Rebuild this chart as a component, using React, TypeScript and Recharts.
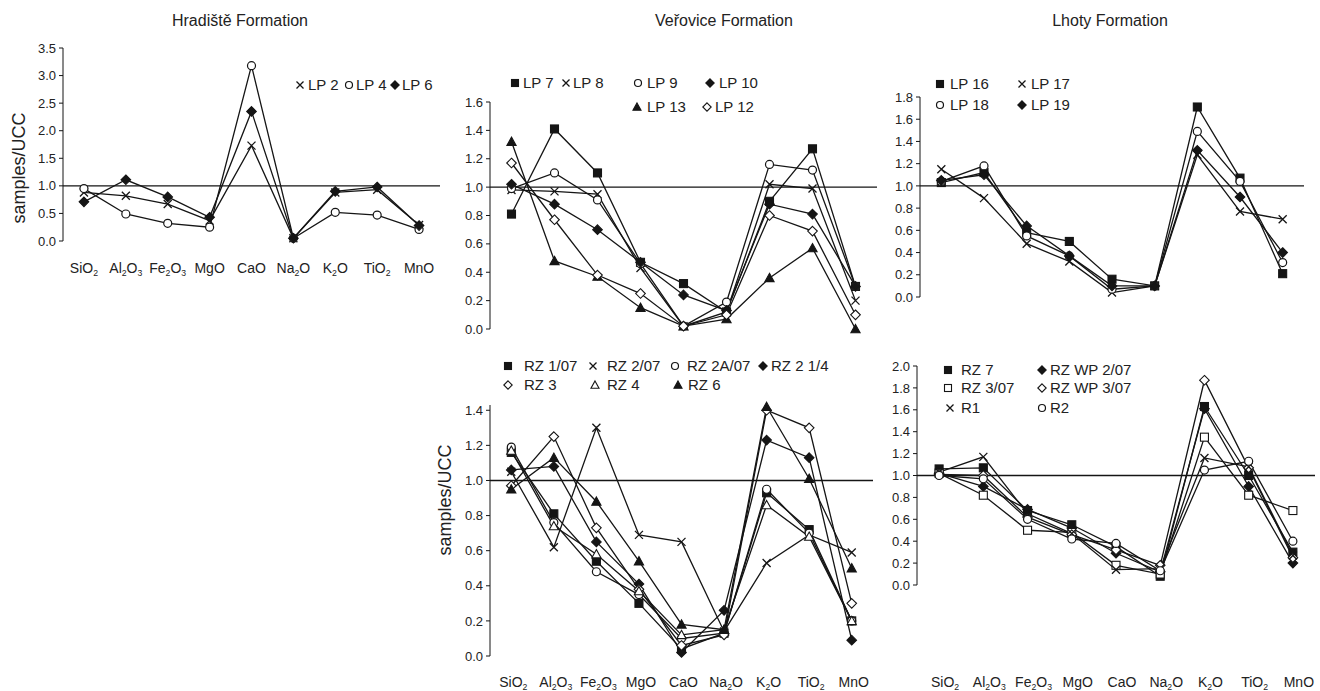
import React from "react";
import { LineChart, Line, XAxis, YAxis, ReferenceLine } from "recharts";

const FONT = '"Liberation Sans", Arial, Helvetica, sans-serif';
const INK = "#151515";
const TEXT = "#222";

// oxides on the x axis
const elements = ["SiO2", "Al2O3", "Fe2O3", "MgO", "CaO", "Na2O", "K2O", "TiO2", "MnO"];

// y tick labels
const ticksHradiste = [0, 0.5, 1, 1.5, 2, 2.5, 3, 3.5];
const ticksVerovice = [0, 0.2, 0.4, 0.6, 0.8, 1, 1.2, 1.4, 1.6];
const ticksLhoty = [0, 0.2, 0.4, 0.6, 0.8, 1, 1.2, 1.4, 1.6, 1.8];
const ticksRZ = [0, 0.2, 0.4, 0.6, 0.8, 1, 1.2, 1.4];
const ticksRZ2 = [0, 0.2, 0.4, 0.6, 0.8, 1, 1.2, 1.4, 1.6, 1.8, 2];

// Hradiště Formation
const lp2 = [0.88, 0.82, 0.67, 0.37, 1.73, 0.05, 0.88, 0.93, 0.29];
const lp4 = [0.95, 0.49, 0.32, 0.25, 3.18, 0.05, 0.52, 0.47, 0.21];
const lp6 = [0.71, 1.11, 0.8, 0.43, 2.35, 0.05, 0.9, 0.98, 0.28];

// Veřovice Formation
const lp7 = [0.81, 1.41, 1.1, 0.47, 0.32, 0.12, 0.9, 1.27, 0.3];
const lp8 = [0.98, 0.97, 0.95, 0.43, 0.02, 0.12, 1.02, 0.99, 0.2];
const lp9 = [0.99, 1.1, 0.91, 0.46, 0.02, 0.19, 1.16, 1.12, 0.3];
const lp10 = [1.02, 0.88, 0.7, 0.47, 0.24, 0.13, 0.88, 0.81, 0.3];
const lp13 = [1.32, 0.48, 0.37, 0.15, 0.02, 0.07, 0.36, 0.57, 0.0];
const lp12 = [1.17, 0.77, 0.38, 0.25, 0.02, 0.1, 0.8, 0.69, 0.1];

// Lhoty Formation
const lp16 = [1.03, 1.12, 0.58, 0.5, 0.16, 0.1, 1.71, 1.07, 0.21];
const lp17 = [1.15, 0.89, 0.48, 0.32, 0.04, 0.1, 1.28, 0.77, 0.7];
const lp18 = [1.04, 1.18, 0.55, 0.37, 0.07, 0.1, 1.49, 1.04, 0.31];
const lp19 = [1.05, 1.1, 0.64, 0.37, 0.1, 0.1, 1.32, 0.9, 0.4];

// Veřovice Formation (RZ)
const rz107 = [1.16, 0.81, 0.54, 0.3, 0.04, 0.13, 0.93, 0.72, 0.2];
const rz207 = [1.05, 0.62, 1.3, 0.69, 0.65, 0.14, 0.53, 0.69, 0.59];
const rz2a07 = [1.19, 0.76, 0.48, 0.35, 0.1, 0.13, 0.95, 0.7, 0.2];
const rz214 = [1.06, 1.08, 0.65, 0.41, 0.02, 0.26, 1.23, 1.13, 0.09];
const rz3 = [0.97, 1.25, 0.73, 0.38, 0.06, 0.12, 1.4, 1.3, 0.3];
const rz4 = [1.17, 0.74, 0.58, 0.37, 0.12, 0.15, 0.86, 0.68, 0.2];
const rz6 = [0.95, 1.13, 0.88, 0.54, 0.18, 0.15, 1.42, 1.01, 0.5];

// Lhoty Formation (RZ / R)
const rz7 = [1.06, 1.07, 0.68, 0.55, 0.35, 0.08, 1.63, 1.0, 0.3];
const rzwp207 = [1.02, 0.9, 0.69, 0.52, 0.29, 0.12, 1.61, 0.9, 0.2];
const rz307 = [1.02, 0.82, 0.5, 0.48, 0.18, 0.1, 1.35, 0.82, 0.68];
const rzwp307 = [1.01, 1.0, 0.62, 0.46, 0.32, 0.18, 1.87, 1.07, 0.25];
const r1 = [1.03, 1.17, 0.65, 0.47, 0.14, 0.15, 1.16, 1.08, 0.27];
const r2 = [1.0, 0.97, 0.6, 0.42, 0.38, 0.13, 1.05, 1.13, 0.4];

const seriesHradiste = [
  { name: "LP 2", shape: "cross", values: lp2 },
  { name: "LP 4", shape: "circle", values: lp4 },
  { name: "LP 6", shape: "diamond", values: lp6 },
];
const seriesVerovice = [
  { name: "LP 7", shape: "square", values: lp7 },
  { name: "LP 8", shape: "cross", values: lp8 },
  { name: "LP 9", shape: "circle", values: lp9 },
  { name: "LP 10", shape: "diamond", values: lp10 },
  { name: "LP 13", shape: "triangle", values: lp13 },
  { name: "LP 12", shape: "diamondOpen", values: lp12 },
];
const seriesLhoty = [
  { name: "LP 16", shape: "square", values: lp16 },
  { name: "LP 17", shape: "cross", values: lp17 },
  { name: "LP 18", shape: "circle", values: lp18 },
  { name: "LP 19", shape: "diamond", values: lp19 },
];
const seriesRZ = [
  { name: "RZ 1/07", shape: "square", values: rz107 },
  { name: "RZ 2/07", shape: "cross", values: rz207 },
  { name: "RZ 2A/07", shape: "circle", values: rz2a07 },
  { name: "RZ 2 1/4", shape: "diamond", values: rz214 },
  { name: "RZ 3", shape: "diamondOpen", values: rz3 },
  { name: "RZ 4", shape: "triangleOpen", values: rz4 },
  { name: "RZ 6", shape: "triangle", values: rz6 },
];
const seriesRZ2 = [
  { name: "RZ 7", shape: "square", values: rz7 },
  { name: "RZ WP 2/07", shape: "diamond", values: rzwp207 },
  { name: "RZ 3/07", shape: "squareOpen", values: rz307 },
  { name: "RZ WP 3/07", shape: "diamondOpen", values: rzwp307 },
  { name: "R1", shape: "cross", values: r1 },
  { name: "R2", shape: "circle", values: r2 },
];

// legend layout: icon x, y, text x (same order as series)
const legendHradiste = [[300, 85, 308], [349, 85, 356], [395, 85, 402]];
const legendVerovice = [[515, 83, 523], [566, 83, 573], [638, 83, 647], [710, 83, 719], [637, 107, 647], [707, 107, 715]];
const legendLhoty = [[940, 84, 950], [1022, 84, 1031], [940, 105, 950], [1022, 105, 1031]];
const legendRZ = [[508, 366, 524], [593, 366, 607], [675, 366, 687], [763, 366, 771], [508, 385, 524], [595, 385, 607], [678, 385, 688]];
const legendRZ2 = [[948, 370, 961], [1042, 370, 1050], [948, 388, 961], [1042, 388, 1050], [950, 408, 961], [1042, 408, 1050]];

function Marker({ shape, cx, cy, s }: any) {
  if (cx == null || cy == null) return null;
  const open = shape.endsWith("Open");
  const fill = open ? "#fff" : INK;
  if (shape === "square" || shape === "squareOpen") {
    return <rect x={cx - s} y={cy - s} width={2 * s} height={2 * s} fill={fill} stroke={INK} strokeWidth={1.1} />;
  }
  if (shape === "circle") {
    return <circle cx={cx} cy={cy} r={s} fill="#fff" stroke={INK} strokeWidth={1.2} />;
  }
  if (shape === "diamond" || shape === "diamondOpen") {
    const d = s * 1.2;
    return (
      <polygon
        points={`${cx},${cy - d} ${cx + d},${cy} ${cx},${cy + d} ${cx - d},${cy}`}
        fill={fill}
        stroke={INK}
        strokeWidth={1.1}
      />
    );
  }
  if (shape === "triangle" || shape === "triangleOpen") {
    const d = s * 1.15;
    return (
      <polygon
        points={`${cx},${cy - d} ${cx + d},${cy + d * 0.8} ${cx - d},${cy + d * 0.8}`}
        fill={fill}
        stroke={INK}
        strokeWidth={1.1}
      />
    );
  }
  return (
    <path
      d={`M${cx - s},${cy - s}L${cx + s},${cy + s}M${cx - s},${cy + s}L${cx + s},${cy - s}`}
      stroke={INK}
      strokeWidth={1.3}
      fill="none"
    />
  );
}

// "Al2O3" -> Al, sub 2, O, sub 3
function Formula({ x, y, label, size = 14 }: any) {
  const parts = label.match(/[0-9]+|[^0-9]+/g) || [];
  let sub = false;
  const spans = parts.map((p: string, i: number) => {
    const isNum = /^[0-9]+$/.test(p);
    let dy = 0;
    if (isNum && !sub) dy = 3;
    if (!isNum && sub) dy = -3;
    sub = isNum;
    return (
      <tspan key={i} dy={dy} fontSize={isNum ? size * 0.62 : size}>
        {p}
      </tspan>
    );
  });
  return (
    <text x={x} y={y} textAnchor="middle" fill={TEXT} fontFamily={FONT} fontSize={size}>
      {spans}
    </text>
  );
}

function Panel({ x0, x1, yTop, yBot, max, ticks, series, labelY, labelDx = 0 }: any) {
  const YW = 40;
  const MT = 10;
  const MR = 4;
  const MB = 12;
  const showX = labelY != null;
  const xh = showX ? labelY - yBot + 14 : 0;
  const width = x1 - x0 + YW + MR;
  const height = yBot - yTop + MT + xh + MB;
  const rows = elements.map((el, i) => {
    const r: any = { i, el };
    series.forEach((s: any) => (r[s.name] = s.values[i]));
    return r;
  });
  return (
    <div style={{ position: "absolute", left: x0 - YW, top: yTop - MT }}>
      <LineChart width={width} height={height} data={rows} margin={{ top: MT, right: MR, bottom: MB, left: 0 }}>
        <XAxis
          type="number"
          dataKey="i"
          domain={[-0.5, 8.5]}
          ticks={elements.map((_, i) => i)}
          interval={0}
          hide={!showX}
          height={xh}
          axisLine={false}
          tickLine={false}
          tickSize={0}
          tickMargin={0}
          tick={(p: any) => (
            <Formula key={p.index} x={p.x + labelDx} y={p.y + (labelY - yBot) + 5} label={elements[p.payload.value]} />
          )}
        />
        <YAxis
          type="number"
          domain={[0, max]}
          ticks={ticks}
          interval={0}
          width={YW}
          axisLine={{ stroke: INK }}
          tickLine={{ stroke: INK }}
          tickSize={4}
          tickMargin={3}
          tickFormatter={(v: number) => v.toFixed(1)}
          tick={{ fontSize: 13, fill: TEXT, fontFamily: FONT }}
        />
        <ReferenceLine y={1} stroke={INK} strokeWidth={1.3} />
        {series.map((s: any) => (
          <Line
            key={s.name}
            dataKey={s.name}
            type="linear"
            stroke={INK}
            strokeWidth={1.3}
            isAnimationActive={false}
            activeDot={false}
            dot={(p: any) => <Marker key={p.index} shape={s.shape} cx={p.cx} cy={p.cy} s={4} />}
          />
        ))}
      </LineChart>
    </div>
  );
}

function LegendItems({ series, layout }: any) {
  return (
    <g>
      {series.map((s: any, i: number) => {
        const [ix, iy, tx] = layout[i];
        return (
          <g key={s.name}>
            <Marker shape={s.shape} cx={ix} cy={iy} s={3.5} />
            <text x={tx} y={iy + 5} fontSize={15} fill={TEXT} fontFamily={FONT}>
              {s.name}
            </text>
          </g>
        );
      })}
    </g>
  );
}

export default function App() {
  return (
    <div style={{ position: "absolute", left: 0, top: 0, width: 1320, height: 691, background: "#fff" }}>
      <Panel x0={63} x1={440} yTop={48} yBot={241} max={3.5} ticks={ticksHradiste} series={seriesHradiste} labelY={268} />
      <Panel x0={490} x1={877} yTop={102} yBot={329} max={1.6} ticks={ticksVerovice} series={seriesVerovice} />
      <Panel x0={920} x1={1304} yTop={97} yBot={297} max={1.8} ticks={ticksLhoty} series={seriesLhoty} />
      <Panel x0={490} x1={873} yTop={405} yBot={656} max={1.43} ticks={ticksRZ} series={seriesRZ} labelY={682} labelDx={2} />
      <Panel x0={917} x1={1315} yTop={366} yBot={585} max={2} ticks={ticksRZ2} series={seriesRZ2} labelY={682} labelDx={6} />
      <svg width={1320} height={691} style={{ position: "absolute", left: 0, top: 0, pointerEvents: "none" }}>
        <g fontFamily={FONT} fill={TEXT} fontSize={16} textAnchor="middle">
          <text x={240} y={26}>Hradiště Formation</text>
          <text x={724} y={26}>Veřovice Formation</text>
          <text x={1110} y={26}>Lhoty Formation</text>
        </g>
        <text x={19} y={168} transform="rotate(-90 19 168)" dy={6} textAnchor="middle" fontSize={18} fill={TEXT} fontFamily={FONT}>
          samples/UCC
        </text>
        <text x={445} y={500} transform="rotate(-90 445 500)" dy={6} textAnchor="middle" fontSize={18} fill={TEXT} fontFamily={FONT}>
          samples/UCC
        </text>
        <LegendItems series={seriesHradiste} layout={legendHradiste} />
        <LegendItems series={seriesVerovice} layout={legendVerovice} />
        <LegendItems series={seriesLhoty} layout={legendLhoty} />
        <LegendItems series={seriesRZ} layout={legendRZ} />
        <LegendItems series={seriesRZ2} layout={legendRZ2} />
      </svg>
    </div>
  );
}
